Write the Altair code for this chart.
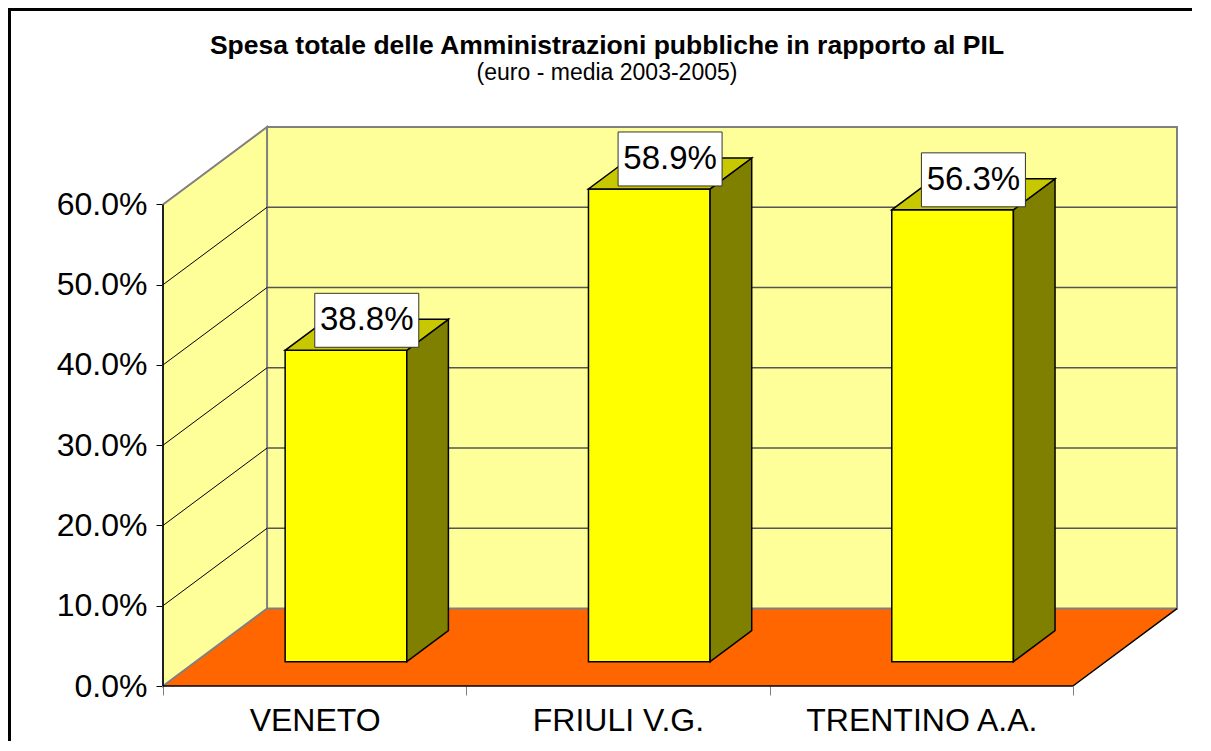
import altair as alt
import pandas as pd

# ---------------- data ----------------
categories = ["VENETO", "FRIULI V.G.", "TRENTINO A.A."]
values = [38.8, 58.9, 56.3]
value_labels = ["38.8%", "58.9%", "56.3%"]
y_ticks = [0, 10, 20, 30, 40, 50, 60]

title_text = "Spesa totale delle Amministrazioni pubbliche in rapporto al PIL"
subtitle_text = "(euro - media 2003-2005)"

# ---------------- 3D layout constants ----------------
N = len(categories)
Y_TOP = y_ticks[-1]
DX = 0.343      # depth shift (category units)
DY = 9.65       # depth shift (percent units)
BAR_LO, BAR_HI = 0.295, 0.696
F = 0.314       # depth of bar front face
G = 0.40        # bar depth
X_MAX = N + DX
Y_MAX = Y_TOP + DY

FONT = "Liberation Sans"
xs = alt.Scale(domain=[0, X_MAX], nice=False, zero=False)
ys = alt.Scale(domain=[0, Y_MAX], nice=False, zero=False)

x_tick_vals = sorted([i for i in range(N + 1)] + [i + 0.5 for i in range(N)])
label_expr = " : ".join(
    f"datum.value == {i + 0.5} ? '{c}'" for i, c in enumerate(categories)
) + " : ''"

XAX = alt.Axis(
    values=x_tick_vals, labelExpr=label_expr, title=None, grid=False,
    domain=False, tickColor="#808080", tickSize=9, tickWidth=1,
    tickOpacity={"condition": {"test": "datum.value % 1 === 0", "value": 1}, "value": 0},
    labelFont=FONT, labelFontSize=32, labelColor="black", labelPadding=10,
    labelFlush=False, labelOverlap=False, labelLimit=600)
YAX = alt.Axis(
    values=y_ticks, labelExpr="format(datum.value, '.1f') + '%'", title=None,
    grid=False, domain=False, tickColor="black", tickSize=7, tickWidth=1,
    labelFont=FONT, labelFontSize=32, labelColor="black", labelPadding=9,
    labelFlush=False, labelOverlap=False, labelLimit=600)


def X(field, **kw):
    return alt.X(field, scale=xs, axis=XAX, **kw)


def Y(field, **kw):
    return alt.Y(field, scale=ys, axis=YAX, **kw)


# ---------------- walls & floor ----------------
back_df = pd.DataFrame({"x": [DX], "x2": [N + DX], "y": [DY], "y2": [Y_MAX]})
back = alt.Chart(back_df).mark_rect(
    fill="#FFFF99", stroke="#808080", strokeWidth=2
).encode(x=X("x:Q"), x2="x2:Q", y=Y("y:Q"), y2="y2:Q")

floor_df = pd.DataFrame({"y": [0, DY], "x": [0, DX], "x2": [N, N + DX]})
floor = alt.Chart(floor_df).mark_area(orient="horizontal", fill="#FF6600").encode(
    y=Y("y:Q"), x=X("x:Q", stack=None), x2="x2:Q",
)

side_df = pd.DataFrame({"x": [0, DX], "y": [0, DY], "y2": [Y_TOP, Y_MAX]})
side = alt.Chart(side_df).mark_area(fill="#FFFF99", stroke="#808080", strokeWidth=2).encode(
    x=X("x:Q"), y=Y("y:Q", stack=None), y2="y2:Q",
)

inner = y_ticks[1:-1]
grid_back_df = pd.DataFrame({"x": [DX] * len(inner), "x2": [N + DX] * len(inner),
                             "y": [v + DY for v in inner]})
grid_back = alt.Chart(grid_back_df).mark_rule(color="#555555", strokeWidth=1.6).encode(
    x=X("x:Q"), x2="x2:Q", y=Y("y:Q"),
)

grid_side_df = pd.DataFrame({"x": [0] * len(inner), "x2": [DX] * len(inner),
                             "y": inner, "y2": [v + DY for v in inner]})
grid_side = alt.Chart(grid_side_df).mark_rule(color="black", strokeWidth=1).encode(
    x=X("x:Q"), x2="x2:Q", y=Y("y:Q"), y2="y2:Q",
)

edges_df = pd.DataFrame({
    "x": [0, N, 0], "x2": [N, N + DX, 0],
    "y": [0, 0, 0], "y2": [0, DY, Y_TOP],
})
edges = alt.Chart(edges_df).mark_rule(color="black", strokeWidth=1.5).encode(
    x=X("x:Q"), x2="x2:Q", y=Y("y:Q"), y2="y2:Q",
)

# ---------------- bars ----------------
front_rows, side_rows, top_rows, lab_rows = [], [], [], []
for i, (c, v, lab) in enumerate(zip(categories, values, value_labels)):
    front_rows.append({"cat": c, "x": i + BAR_LO + F * DX, "x2": i + BAR_HI + F * DX,
                       "y": F * DY, "y2": v + F * DY})
    for d in (F, F + G):
        side_rows.append({"cat": c, "x": i + BAR_HI + d * DX, "y": d * DY, "y2": v + d * DY})
        top_rows.append({"cat": c, "y": v + d * DY, "x": i + BAR_LO + d * DX,
                         "x2": i + BAR_HI + d * DX})
    lab_rows.append({"cat": c, "label": lab,
                     "x": i + (BAR_LO + BAR_HI) / 2 + (F + G / 2) * DX,
                     "y": v + (F + G / 2) * DY})

bar_front = alt.Chart(pd.DataFrame(front_rows)).mark_rect(
    fill="#FFFF00", stroke="black", strokeWidth=1.5
).encode(x=X("x:Q"), x2="x2:Q", y=Y("y:Q"), y2="y2:Q")

bar_side = alt.Chart(pd.DataFrame(side_rows)).mark_area(
    fill="#808000", stroke="black", strokeWidth=1.5
).encode(x=X("x:Q"), y=Y("y:Q", stack=None), y2="y2:Q", detail="cat:N")

bar_top = alt.Chart(pd.DataFrame(top_rows)).mark_area(
    orient="horizontal", fill="#C8C800", stroke="black", strokeWidth=1.5
).encode(y=Y("y:Q"), x=X("x:Q", stack=None), x2="x2:Q", detail="cat:N")

lab_df = pd.DataFrame(lab_rows)
box = alt.Chart(lab_df).mark_point(
    shape="M-1,-0.519L1,-0.519L1,0.519L-1,0.519Z", size=104 ** 2, filled=True,
    fill="white", stroke="#333333", strokeWidth=1, opacity=1, yOffset=-14.5
).encode(x=X("x:Q"), y=Y("y:Q"))
text = alt.Chart(lab_df).mark_text(
    font=FONT, fontSize=33, color="black", align="center", baseline="middle",
    yOffset=-14.5
).encode(x=X("x:Q"), y=Y("y:Q"), text="label:N")

# outer frame of the chart area
frame = alt.Chart(pd.DataFrame({"k": [0]})).mark_rect(
    fill="transparent", stroke="black", strokeWidth=3
).encode(
    x=alt.value(-153.5), x2=alt.value(1300), y=alt.value(-117.5), y2=alt.value(900)
)

chart = alt.layer(
    floor, back, side, grid_back, grid_side, edges,
    bar_front, bar_side, bar_top, box, text, frame
).properties(
    width=1014, height=559,
    autosize=alt.AutoSizeParams(type="none"),
    padding={"left": 155, "top": 119, "right": 15, "bottom": 55},
    title=alt.TitleParams(
        text=title_text, subtitle=subtitle_text, font=FONT, fontSize=26.5,
        fontWeight="bold", color="black", subtitleFont=FONT, subtitleFontSize=23,
        subtitleColor="black", anchor="middle", frame="group", dx=-63, offset=-77,
        subtitlePadding=3,
    ),
).configure(background="white").configure_view(stroke=None)

chart.save("out.html", embed_options={"renderer": "svg", "actions": False})
